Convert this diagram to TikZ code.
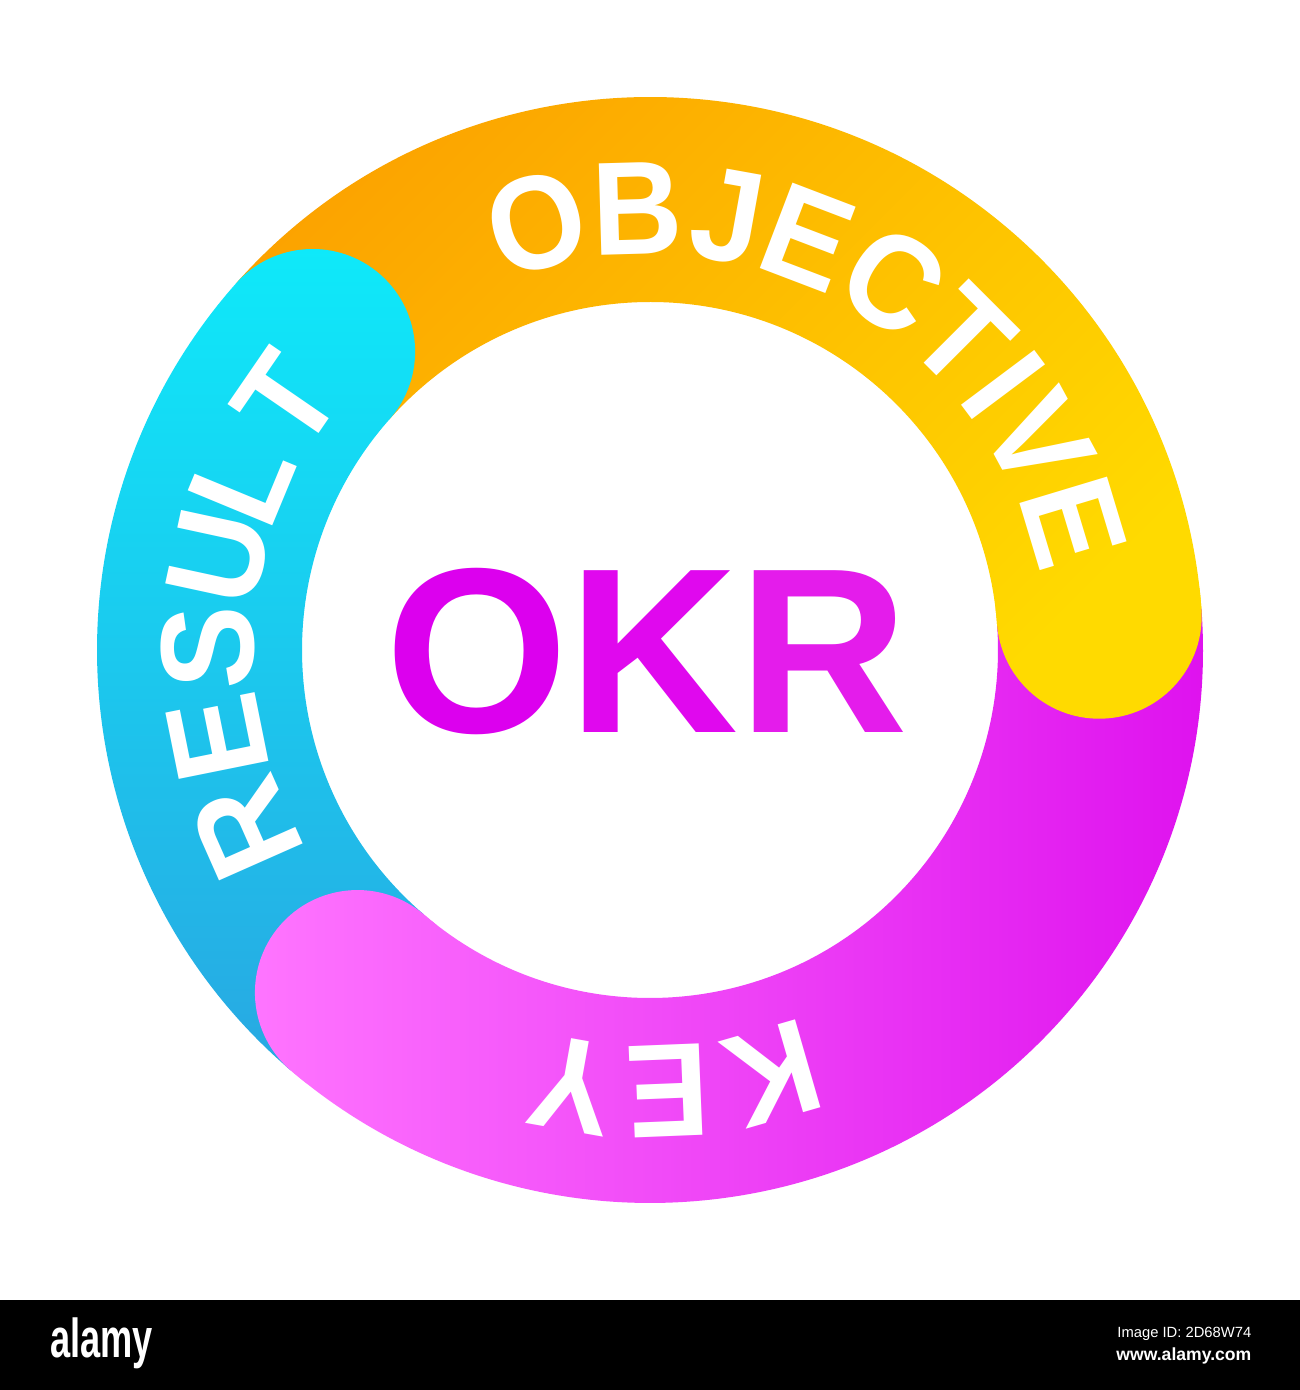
\documentclass[tikz,border=0pt]{standalone}
\usepackage{fontspec}
\newfontfamily\lsans{Liberation Sans}
\definecolor{orA}{HTML}{FCA300}
\definecolor{orB}{HTML}{FFDA00}
\definecolor{cyA}{HTML}{0EEAFA}
\definecolor{cyB}{HTML}{28A8E2}
\definecolor{mgA}{HTML}{FF76FF}
\definecolor{mgB}{HTML}{DE10EE}
\definecolor{okA}{HTML}{DC00EE}
\definecolor{okB}{HTML}{E008EE}
\definecolor{okC}{HTML}{E41CEB}
\tikzset{
  segment/.style 2 args={insert path={(#1:553) arc[start angle=#1,end angle=#2,radius=553]
      arc[start angle=#2,end angle=#2-180,radius=102.5]
      arc[start angle=#2,end angle=#1,radius=348] -- cycle}},
  orshade/.style={top color=orA, bottom color=orB, shading angle=45},
  cyshade/.style={top color=cyA, bottom color=cyB},
  mgshade/.style={left color=mgA, right color=mgB},
  ringtxt/.style={text=white, font=\lsans\bfseries\fontsize{37.8}{40}\selectfont, anchor=base, inner sep=0pt},
  bartxt/.style={text=white, inner sep=0pt},
}
\newcommand\ringletter[3]{\node[ringtxt, rotate=#2-90, xscale=0.94] (#1) at (#2:396) {#3};}
\begin{document}
\begin{tikzpicture}[x=0.01cm, y=0.01cm]
\useasboundingbox (0,0) rectangle (1300,1390);
\fill[white] (0,0) rectangle (1300,1390);
\begin{scope}[shift={(650,740)}]
  % ring segments
  \shade[orshade] [segment={138.5}{4.3}];
  \shade[mgshade] [segment={4.3}{-130.5}];
  \shade[cyshade] [segment={229.5}{138.5}];
  \begin{scope}
    \clip (4.3:450.5) circle[radius=104];
    \shade[orshade] [segment={138.5}{4.3}];
  \end{scope}
  \begin{scope}
    \clip (-130.5:450.5) circle[radius=104];
    \shade[mgshade] [segment={4.3}{-130.5}];
  \end{scope}
  % OBJECTIVE
  \ringletter{ob1}{104.9}{O}
  \ringletter{ob2}{91.6}{B}
  \ringletter{ob3}{79.8}{J}
  \ringletter{ob4}{69.1}{E}
  \ringletter{ob5}{56.5}{C}
  \ringletter{ob6}{45.0}{T}
  \ringletter{ob7}{36.8}{I}
  \ringletter{ob8}{28.4}{V}
  \ringletter{ob9}{16.8}{E}
  % KEY
  \ringletter{ke1}{286.1}{K}
  \ringletter{ke2}{272.3}{E}
  \ringletter{ke3}{259.9}{Y}
  % RESULT
  \ringletter{re1}{203.9}{R}
  \ringletter{re2}{191.4}{E}
  \ringletter{re3}{179.7}{S}
  \ringletter{re4}{167.8}{U}
  \ringletter{re5}{157.5}{L}
  \ringletter{re6}{145.5}{T}
  % centre
  \node[anchor=base, inner sep=0pt, font=\lsans\bfseries\fontsize{66.9}{70}\selectfont] (okr) at (-3,-83)
    {\textcolor{okA}{O}\textcolor{okB}{K}\textcolor{okC}{R}};
\end{scope}
% bottom bar
\fill[black] (0,0) rectangle (1300,90);
\node[bartxt, anchor=base west, font=\lsans\bfseries\fontsize{15.6}{16}\selectfont, xscale=0.66] (logo) at (50,32) {alamy};
\node[bartxt, anchor=base east, font=\lsans\fontsize{4.2}{5}\selectfont] (imgid) at (1252,52) {Image ID: 2D68W74};
\node[bartxt, anchor=base east, font=\lsans\bfseries\fontsize{5}{6}\selectfont] (www) at (1252,29) {www.alamy.com};
\end{tikzpicture}
\end{document}
